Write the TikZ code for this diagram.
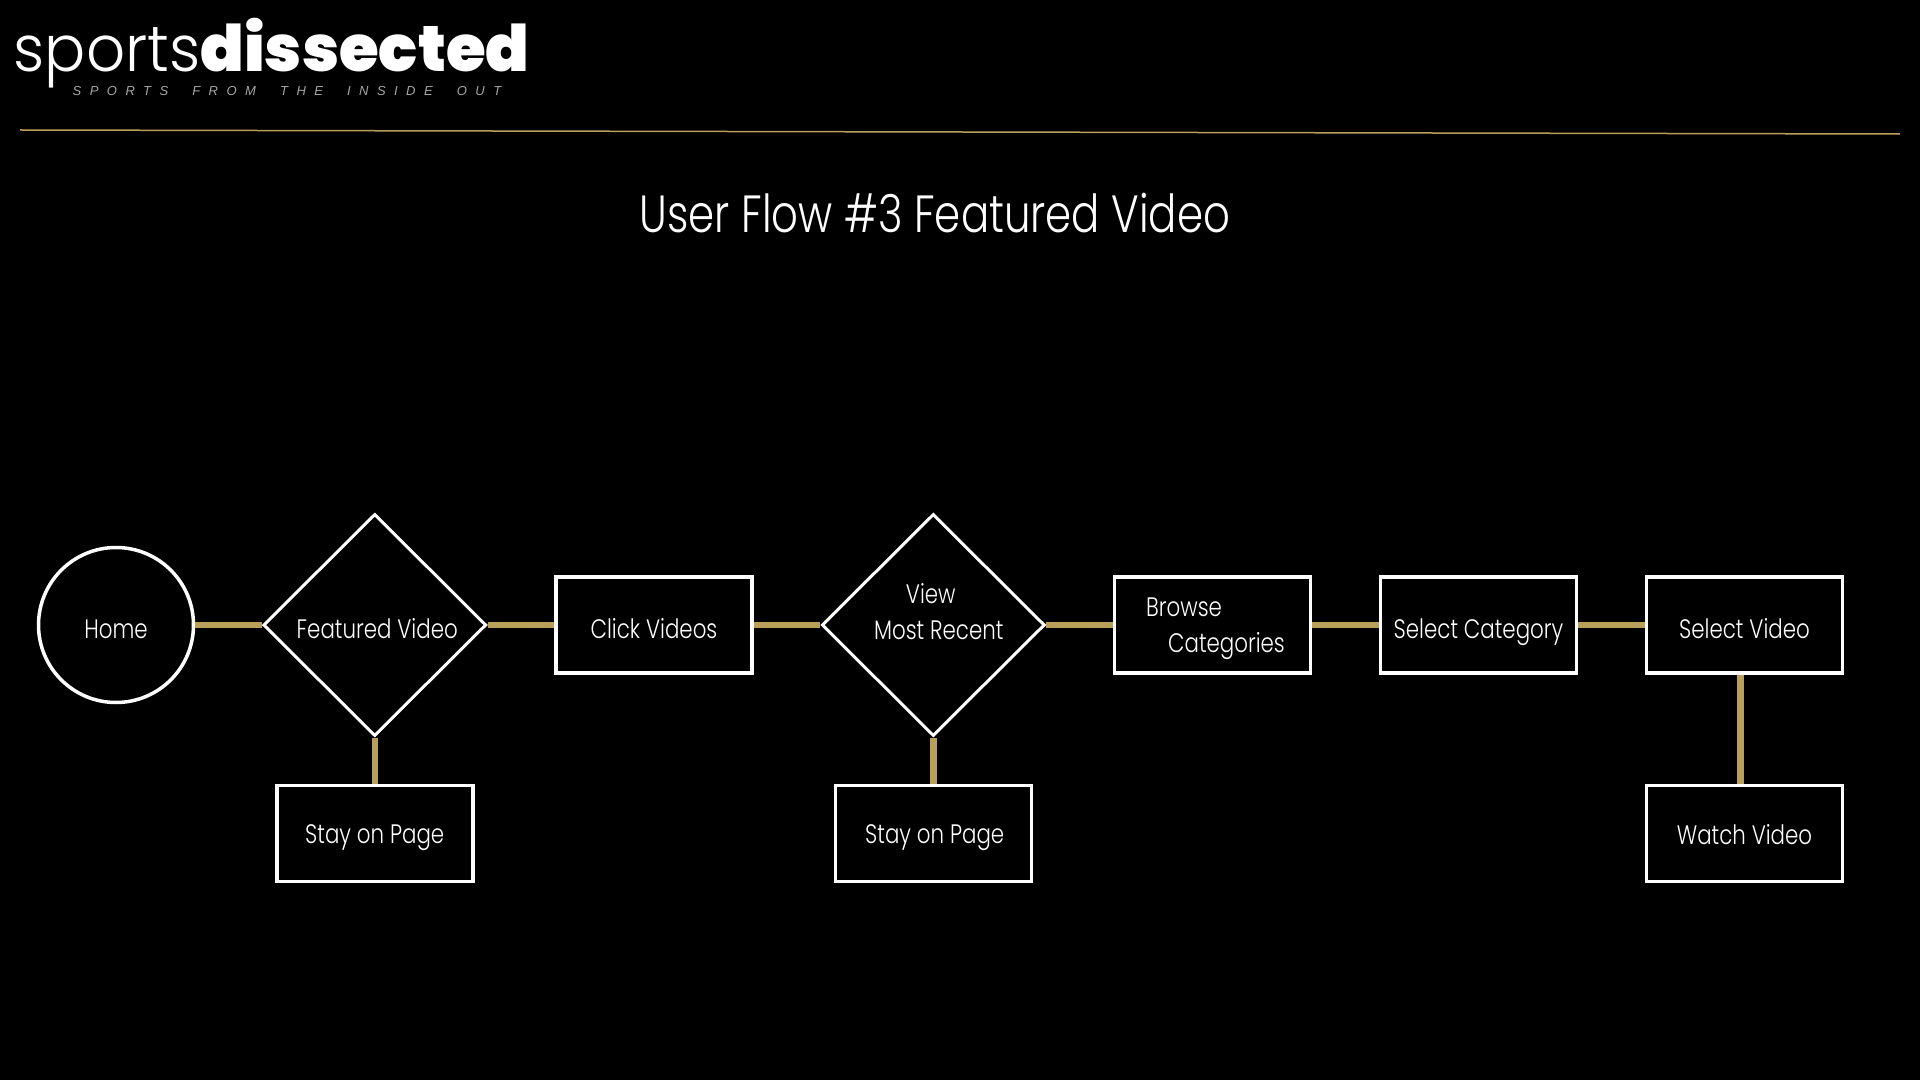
\documentclass[tikz,border=0pt]{standalone}
\usepackage{fontspec}
\usepackage{xcolor}
\setmainfont[FakeStretch=0.8]{Poppins Light}
\newfontfamily\logolight[FakeStretch=0.95]{Poppins Light}
\newfontfamily\logoheavy[FakeStretch=1.0]{Poppins Black}
\newfontfamily\logotag[LetterSpace=65,WordSpace=2]{Liberation Sans}
\usetikzlibrary{shapes.geometric, positioning}
\definecolor{flowgold}{HTML}{B9A05A}
\newcommand{\uptext}[1]{\raisebox{-0.13cm}[0pt][0pt]{#1}}
\newcommand{\lowtext}[1]{\raisebox{-0.105cm}[0pt][0pt]{#1}}
\tikzset{
  labeltext/.style={text=white, align=center, inner sep=0pt, font=\fontsize{7.6}{10.2}\selectfont},
  block/.style={rectangle, draw=white, line width=0.035cm, minimum width=1.96cm,
                minimum height=0.96cm, labeltext},
  decision/.style={diamond, draw=white, line width=0.03cm, minimum width=2.23cm,
                minimum height=2.22cm, labeltext},
  startnode/.style={circle, draw=white, line width=0.035cm, minimum size=1.55cm,
                labeltext},
  link/.style={draw=flowgold, line width=0.065cm}
}

\begin{document}
\begin{tikzpicture}[node distance=0.665cm]
    \fill[black] (0,0) rectangle (19.2,-10.8);

    \node[startnode] (home) at (1.16,-6.25) {\uptext{Home}};
    \node[decision, right=of home] (featured) {\hspace*{0.05cm}\uptext{Featured Video}};
    \node[block, right=of featured] (clickvid) {\uptext{Click Videos}};
    \node[decision, right=of clickvid] (recent) {\hspace*{0.11cm}\raisebox{0.035cm}[0pt][0pt]{\begin{tabular}{@{}c@{}}View\hspace*{0.16cm}\\Most Recent\end{tabular}}};
    \node[block, right=of recent] (browse) {\hspace*{0.06cm}\raisebox{-0.095cm}[0pt][0pt]{\begin{tabular}{@{}l@{}}Browse\\\hspace*{0.22cm}Categories\end{tabular}}};
    \node[block, right=of browse] (selcat) {\uptext{Select Category}};
    \node[block, right=of selcat] (selvid) {\uptext{Select Video}};

    \node[block, below=0.46cm of featured] (stayone) {\lowtext{Stay on Page}};
    \node[block, below=0.46cm of recent] (staytwo) {\hspace*{0.03cm}\lowtext{Stay on Page}};
    \node[block, below=1.09cm of selvid] (watch) {\lowtext{Watch Video}};

    \draw[link] (home) -- (featured);
    \draw[link] (featured) -- (clickvid);
    \draw[link] (clickvid) -- (recent);
    \draw[link] (recent) -- (browse);
    \draw[link] (browse) -- (selcat);
    \draw[link] (selcat) -- (selvid);
    \draw[link] (featured) -- (stayone);
    \draw[link] (recent) -- (staytwo);
    \draw[link] ([xshift=-0.04cm]selvid.south) -- ([xshift=-0.04cm]watch.north);

    % header
    \node[text=white, font=\fontsize{14.9}{17}\selectfont] (heading) at (9.35,-2.13) {User Flow \#3 Featured Video};
    \node[text=white, anchor=base west, inner sep=0pt, font=\fontsize{18.3}{20}\selectfont] (logo) at (0.13,-0.72)
      {{\logolight sports}{\logoheavy dissected}};
    \node[text=white!65!black, anchor=base west, inner sep=0pt, font=\logotag\itshape\fontsize{3.7}{4}\selectfont] (tagline) at (0.72,-0.96)
      {SPORTS FROM THE INSIDE OUT};
    \coordinate (ruleleft) at (0.2,-1.3);
    \coordinate (ruleright) at (19,-1.34);
    \draw[draw=flowgold, line width=0.015cm] (ruleleft) -- (ruleright);
\end{tikzpicture}
\end{document}
